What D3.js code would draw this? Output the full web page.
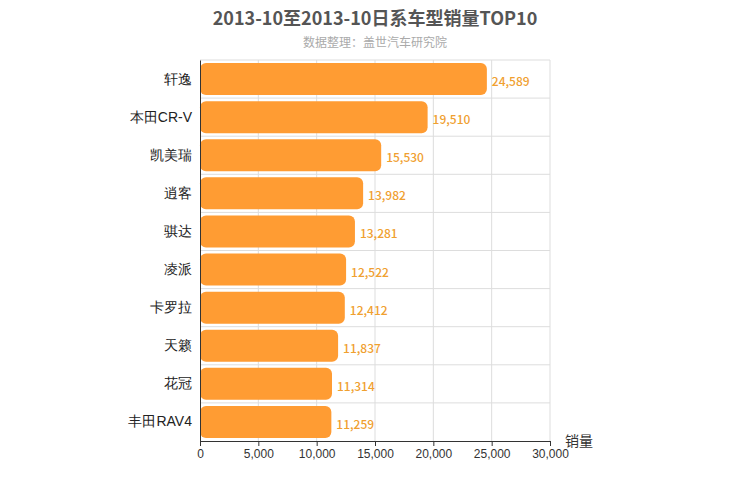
<!DOCTYPE html>
<html><head><meta charset="utf-8">
<script src="https://cdn.jsdelivr.net/npm/d3@7"></script>
<style>body{margin:0;font-family:"Microsoft YaHei","Noto Sans CJK SC",sans-serif;}</style>
</head><body><svg id="c" width="750" height="500"></svg>
<script>
var categories = ["轩逸","本田CR-V","凯美瑞","逍客","骐达","凌派","卡罗拉","天籁","花冠","丰田RAV4"];
var sales = [24589,19510,15530,13982,13281,12522,12412,11837,11314,11259];
var xTicks = [0,5000,10000,15000,20000,25000,30000];

var svg = d3.select("#c");
var m = {left: 200, right: 550, top: 60, bottom: 441};

var x = d3.scaleLinear().domain([0, 30000]).range([m.left, m.right]);
var y = d3.scaleBand().domain(categories).range([m.top, m.bottom]).paddingInner(0.16).paddingOuter(0.08);
var band = d3.scaleBand().domain(categories).range([m.top, m.bottom]);

svg.append("text").attr("x", 375).attr("y", 25).attr("text-anchor", "middle")
  .attr("font-size", 18).attr("font-weight", "bold").attr("fill", "#555").text("2013-10至2013-10日系车型销量TOP10");
svg.append("text").attr("x", 375).attr("y", 47).attr("text-anchor", "middle")
  .attr("font-size", 12).attr("fill", "#aaa").text("数据整理：盖世汽车研究院");

// grid
svg.append("g").selectAll("line").data(xTicks.slice(1)).enter().append("line")
  .attr("x1", x).attr("x2", x).attr("y1", m.top).attr("y2", m.bottom)
  .attr("stroke", "#ddd");
svg.append("g").selectAll("line").data(categories).enter().append("line")
  .attr("x1", m.left).attr("x2", m.right)
  .attr("y1", function(d) { return band(d); }).attr("y2", function(d) { return band(d); })
  .attr("stroke", "#ddd");

svg.append("g").selectAll("rect").data(categories).enter().append("rect")
  .attr("x", x(0)).attr("y", function(d) { return y(d); })
  .attr("width", function(d, i) { return x(sales[i]) - x(0); })
  .attr("height", y.bandwidth()).attr("rx", 6).attr("fill", "#ff9c33");

svg.append("g").selectAll("text").data(categories).enter().append("text")
  .attr("x", function(d, i) { return x(sales[i]) + 5; })
  .attr("y", function(d) { return y(d) + y.bandwidth() / 2 + 7; })
  .attr("font-size", 12).attr("fill", "#f0a030").attr("font-weight", 500)
  .text(function(d, i) { return d3.format(",")(sales[i]); });

var yAxis = svg.append("g").attr("transform", "translate(" + m.left + ",0)")
  .call(d3.axisLeft(band).tickSize(0).tickPadding(8));
yAxis.selectAll("text").attr("font-size", 14).attr("fill", "#222").style("font-family", "inherit");
yAxis.select(".domain").attr("stroke", "#333");

var xAxis = svg.append("g").attr("transform", "translate(0," + m.bottom + ")")
  .call(d3.axisBottom(x).tickValues(xTicks).tickFormat(d3.format(",")).tickSizeOuter(0).tickSize(5));
xAxis.selectAll("text").attr("font-size", 12).attr("fill", "#333").style("font-family", "inherit");
xAxis.selectAll("line, .domain").attr("stroke", "#333");

svg.append("text").attr("x", 565).attr("y", 446).attr("font-size", 14).attr("fill", "#333").text("销量");
</script></body></html>
